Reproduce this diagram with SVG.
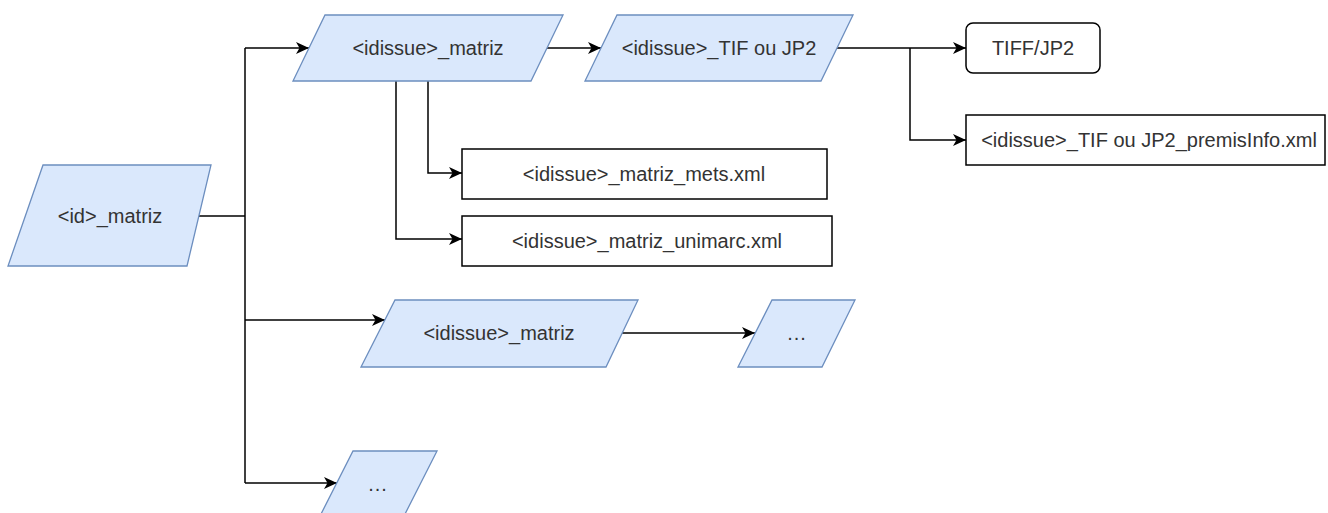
<svg xmlns="http://www.w3.org/2000/svg" width="1328" height="513" viewBox="0 0 1328 513">
<style>
.para{fill:#dae8fc;stroke:#6c8ebf;stroke-width:1.3}
.box{fill:#ffffff;stroke:#000000;stroke-width:1.5}
.t{font-family:"Liberation Sans",Arial,sans-serif;font-size:20px;fill:#333333;text-anchor:middle}
.c{fill:none;stroke:#000000;stroke-width:1.5}
</style>
<defs>
<marker id="arr" markerWidth="14" markerHeight="12" refX="13" refY="6" orient="auto" markerUnits="userSpaceOnUse">
<path d="M0,0 L13,6 L0,12 L3.5,6 Z" fill="#000000"/>
</marker>
</defs>
<rect width="1328" height="513" fill="#ffffff"/>
<g id="connectors">
<path class="c" d="M199,216 H245"/>
<path class="c" d="M245,48 V483"/>
<path class="c" d="M245,48 H309" marker-end="url(#arr)"/>
<path class="c" d="M245,320 H385" marker-end="url(#arr)"/>
<path class="c" d="M245,483 H337" marker-end="url(#arr)"/>
<path class="c" d="M547,48 H601" marker-end="url(#arr)"/>
<path class="c" d="M837,48 H966" marker-end="url(#arr)"/>
<path class="c" d="M910,48 V140 H966" marker-end="url(#arr)"/>
<path class="c" d="M428,81 V173 H462" marker-end="url(#arr)"/>
<path class="c" d="M396,81 V239 H462" marker-end="url(#arr)"/>
<path class="c" d="M622,333 H755" marker-end="url(#arr)"/>
</g>
<g id="node-id-matriz">
<polygon class="para" points="43,165 211,165 187,266 8,266"/>
<text class="t" x="110" y="223">&lt;id&gt;_matriz</text>
</g>
<g id="node-idissue-matriz-1">
<polygon class="para" points="325,15 563,15 531,81 293,81"/>
<text class="t" x="428" y="55">&lt;idissue&gt;_matriz</text>
</g>
<g id="node-tif-jp2">
<polygon class="para" points="617,15 853,15 821,81 585,81"/>
<text class="t" x="719" y="55">&lt;idissue&gt;_TIF ou JP2</text>
</g>
<g id="node-tiff-jp2">
<rect class="box" x="966" y="23" width="134" height="50" rx="7"/>
<text class="t" x="1033" y="55">TIFF/JP2</text>
</g>
<g id="node-premis">
<rect class="box" x="966" y="115" width="359" height="50"/>
<text class="t" x="1149" y="147">&lt;idissue&gt;_TIF ou JP2_premisInfo.xml</text>
</g>
<g id="node-mets">
<rect class="box" x="462" y="149" width="365" height="50"/>
<text class="t" x="644" y="181">&lt;idissue&gt;_matriz_mets.xml</text>
</g>
<g id="node-unimarc">
<rect class="box" x="462" y="216" width="370" height="50"/>
<text class="t" x="647" y="248">&lt;idissue&gt;_matriz_unimarc.xml</text>
</g>
<g id="node-idissue-matriz-2">
<polygon class="para" points="395,300 638,300 606,367 361,367"/>
<text class="t" x="499" y="340">&lt;idissue&gt;_matriz</text>
</g>
<g id="node-dots-1">
<polygon class="para" points="772,300 855,300 822,367 738,367"/>
<text class="t" x="797" y="340" letter-spacing="1">...</text>
</g>
<g id="node-dots-2">
<polygon class="para" points="353,451 437,451 403,518 319,518"/>
<text class="t" x="378" y="491" letter-spacing="1">...</text>
</g>
</svg>
